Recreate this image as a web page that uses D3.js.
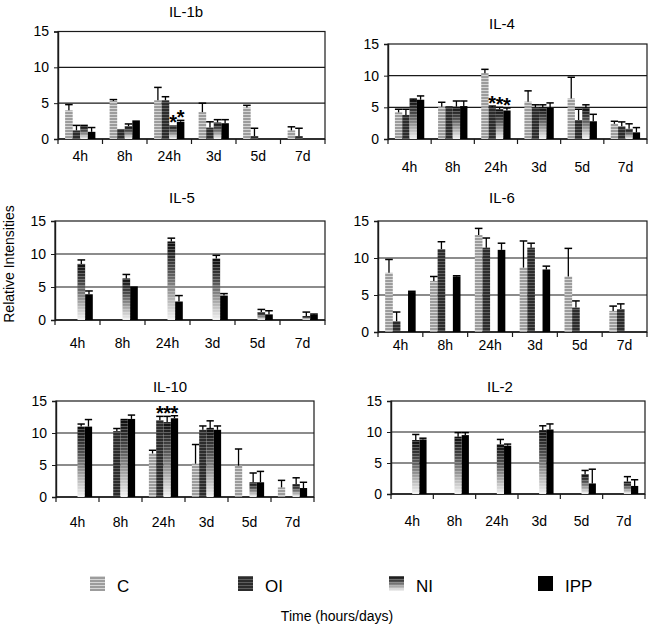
<!DOCTYPE html>
<html>
<head>
<meta charset="utf-8">
<script src="https://cdn.jsdelivr.net/npm/d3@7"></script>
<style>
  html, body { margin: 0; padding: 0; background: #fff; }
  text { font-family: "Liberation Sans", Arial, sans-serif; fill: #000; }
</style>
</head>
<body>
<script>
// ---------------- DATA ----------------
const categories = ["4h", "8h", "24h", "3d", "5d", "7d"];
const seriesNames = ["C", "OI", "NI", "IPP"];
const yTicks = [0, 5, 10, 15];

// values per series (C, OI, NI, IPP); null = no bar
const il1bValues = [
  [4.0, 5.3, 5.4, 3.75, 4.4, 1.2],
  [1.2, 1.4, 5.4, 1.6, 0.4, 0.4],
  [1.8, 1.8, 1.9, 2.3, null, null],
  [1.0, 2.6, 2.4, 2.2, null, null]
];
const il1bErrors = [
  [0.8, 0.2, 1.8, 1.25, 0.3, 0.5],
  [0.7, 0, 0.5, 0.8, 1.1, 1.1],
  [0.1, 0.3, 0, 0.4, 0, 0],
  [0.6, 0, 0.2, 0.5, 0, 0]
];
const il1bStars = [["24h", "NI"], ["24h", "IPP"]];

const il4Values = [
  [4.2, 5.1, 10.4, 5.9, 6.4, 2.4],
  [3.8, 5.2, 5.0, 5.0, 3.0, 2.0],
  [6.2, 5.1, 4.7, 5.0, 4.9, 1.6],
  [6.2, 5.2, 4.5, 4.9, 2.8, 1.05]
];
const il4Errors = [
  [0.5, 0.7, 0.6, 1.7, 3.35, 0.4],
  [0.9, 0, 0.2, 0.4, 1.7, 0.7],
  [0.1, 0.9, 0.3, 0.4, 0.5, 0.8],
  [0.6, 0.8, 0.4, 0.8, 1.1, 0.75]
];
const il4Stars = [["24h", "OI"], ["24h", "NI"], ["24h", "IPP"]];

const il5Values = [
  [null, null, null, null, null, null],
  [null, null, null, null, null, null],
  [8.5, 6.3, 11.9, 9.3, 1.2, 0.6],
  [3.9, 5.1, 2.8, 3.7, 0.85, 0.8]
];
const il5Errors = [
  [0, 0, 0, 0, 0, 0],
  [0, 0, 0, 0, 0, 0],
  [0.6, 0.6, 0.5, 0.5, 0.4, 0.6],
  [0.5, 0, 0.9, 0.3, 0.55, 0.1]
];
const il5Stars = [];

const il6Values = [
  [8.0, 6.9, 13.1, 8.7, 7.5, 2.85],
  [1.45, 11.2, 11.4, 11.4, 3.3, 3.1],
  [null, null, null, null, null, null],
  [5.4, 7.5, 11.1, 8.45, null, null]
];
const il6Errors = [
  [1.8, 0.6, 0.9, 3.6, 3.8, 0.65],
  [1.25, 1.0, 1.3, 0.6, 0.9, 0.7],
  [0, 0, 0, 0, 0, 0],
  [0.1, 0.1, 0.9, 0.45, 0, 0]
];
const il6Stars = [];

const il10Values = [
  [null, null, 6.8, 5.2, 4.9, 1.5],
  [null, 10.3, 12.0, 10.5, null, null],
  [11.0, 12.0, 11.7, 10.8, 2.3, 2.0],
  [11.0, 12.2, 12.3, 10.5, 2.3, 1.4]
];
const il10Errors = [
  [0, 0, 0.5, 3.0, 2.6, 1.1],
  [0, 0.4, 0.6, 0.6, 0, 0],
  [0.4, 0.1, 0.9, 1.1, 1.45, 1.0],
  [1.1, 0.6, 0.4, 0.6, 1.7, 0.9]
];
const il10Stars = [["24h", "OI"], ["24h", "NI"], ["24h", "IPP"]];

const il2Values = [
  [null, null, null, null, null, null],
  [null, null, null, null, null, null],
  [8.7, 9.25, 8.0, 10.3, 3.2, 2.0],
  [8.8, 9.5, 7.8, 10.4, 1.7, 1.3]
];
const il2Errors = [
  [0, 0, 0, 0, 0, 0],
  [0, 0, 0, 0, 0, 0],
  [0.9, 0.65, 0.8, 0.7, 0.6, 0.8],
  [0.2, 0.4, 0.25, 0.9, 2.3, 1.0]
];
const il2Stars = [];

const yAxisTitle = "Relative Intensities";
const xAxisTitle = "Time (hours/days)";

// ---------------- LAYOUT ----------------
const panels = [
  { title: "IL-1b", values: il1bValues, errors: il1bErrors, stars: il1bStars,
    L: 58, R: 325, top: 31.5, bottom: 139, titleX: 186, titleY: 17, labelY: 161 },
  { title: "IL-4", values: il4Values, errors: il4Errors, stars: il4Stars,
    L: 388, R: 647, top: 44, bottom: 139, titleX: 502, titleY: 29, labelY: 172 },
  { title: "IL-5", values: il5Values, errors: il5Errors, stars: il5Stars,
    L: 55, R: 325, top: 221, bottom: 320, titleX: 182, titleY: 203, labelY: 348 },
  { title: "IL-6", values: il6Values, errors: il6Errors, stars: il6Stars,
    L: 378, R: 647, top: 221, bottom: 332, titleX: 502, titleY: 203, labelY: 350 },
  { title: "IL-10", values: il10Values, errors: il10Errors, stars: il10Stars,
    L: 56, R: 314, top: 401, bottom: 497, titleX: 170, titleY: 392, labelY: 527 },
  { title: "IL-2", values: il2Values, errors: il2Errors, stars: il2Stars,
    L: 391, R: 645, top: 401, bottom: 494, titleX: 500, titleY: 392, labelY: 526 }
];

const W = 652, H = 627;
const svg = d3.select("body").append("svg").attr("width", W).attr("height", H);
const defs = svg.append("defs");

// striped fills
function stripePattern(id, base, stripe) {
  const p = defs.append("pattern").attr("id", id)
    .attr("patternUnits", "userSpaceOnUse").attr("width", 4).attr("height", 3);
  p.append("rect").attr("width", 4).attr("height", 3).attr("fill", base);
  p.append("rect").attr("width", 4).attr("height", 1).attr("fill", stripe);
}
stripePattern("patC", "#9c9c9c", "#d6d6d6");
stripePattern("patOI", "#2c2c2c", "#5e5e5e");
const ov = defs.append("pattern").attr("id", "patStripe")
  .attr("patternUnits", "userSpaceOnUse").attr("width", 4).attr("height", 3);
ov.append("rect").attr("width", 4).attr("height", 1).attr("fill", "#fff").attr("opacity", 0.28);

const grad = defs.append("linearGradient").attr("id", "gradNI")
  .attr("x1", 0).attr("y1", 0).attr("x2", 0).attr("y2", 1);
grad.append("stop").attr("offset", "0").attr("stop-color", "#0c0c0c");
grad.append("stop").attr("offset", "0.35").attr("stop-color", "#4a4a4a");
grad.append("stop").attr("offset", "0.8").attr("stop-color", "#c4c4c4");
grad.append("stop").attr("offset", "1").attr("stop-color", "#f2f2f2");

const fills = { C: "url(#patC)", OI: "url(#patOI)", NI: "url(#gradNI)", IPP: "#000" };
const lineColor = "#1a1a1a";

panels.forEach(p => {
  const g = svg.append("g");
  const y = d3.scaleLinear().domain([0, 15]).range([p.bottom, p.top]);
  const x0 = d3.scaleBand().domain(categories).range([p.L, p.R]);
  const bw = x0.bandwidth();
  const x1 = d3.scaleBand().domain(seriesNames).range([bw * 0.16, bw * 0.84]);

  // gridlines
  g.selectAll("line.grid").data([5, 10]).join("line")
    .attr("x1", p.L).attr("x2", p.R)
    .attr("y1", d => y(d)).attr("y2", d => y(d))
    .attr("stroke", lineColor).attr("stroke-width", 1.2);
  // box
  g.append("rect").attr("x", p.L).attr("y", y(15))
    .attr("width", p.R - p.L).attr("height", y(0) - y(15))
    .attr("fill", "none").attr("stroke", lineColor).attr("stroke-width", 1.2);

  // y axis
  const ya = g.append("g").attr("transform", `translate(${p.L},0)`)
    .call(d3.axisLeft(y).tickValues(yTicks).tickSize(4).tickPadding(5));
  ya.select(".domain").attr("stroke", lineColor).attr("stroke-width", 1.4);
  ya.selectAll(".tick line").attr("stroke", lineColor);
  ya.selectAll("text").attr("font-size", 14).attr("fill", "#000")
    .style("font-family", "'Liberation Sans', Arial, sans-serif");

  // x axis baseline & ticks between categories
  g.append("line").attr("x1", p.L).attr("x2", p.R)
    .attr("y1", y(0)).attr("y2", y(0))
    .attr("stroke", lineColor).attr("stroke-width", 1.4);
  const bounds = categories.map(c => x0(c)).concat([p.R]);
  g.selectAll("line.xt").data(bounds).join("line")
    .attr("x1", d => d).attr("x2", d => d)
    .attr("y1", y(0)).attr("y2", y(0) + 5)
    .attr("stroke", lineColor).attr("stroke-width", 1.2);
  g.selectAll("text.xl").data(categories).join("text")
    .attr("x", d => x0(d) + bw / 2).attr("y", p.labelY)
    .attr("text-anchor", "middle").attr("font-size", 14).text(d => d);

  // bars
  const bars = [];
  seriesNames.forEach((s, si) => {
    categories.forEach((c, ci) => {
      const v = p.values[si][ci];
      if (v !== null && v !== undefined) {
        bars.push({ s, c, v, e: p.errors[si][ci] || 0 });
      }
    });
  });
  g.selectAll("rect.bar").data(bars).join("rect")
    .attr("x", d => x0(d.c) + x1(d.s)).attr("y", d => y(d.v))
    .attr("width", x1.bandwidth()).attr("height", d => y(0) - y(d.v))
    .attr("fill", d => fills[d.s]);
  g.selectAll("rect.ov").data(bars.filter(d => d.s === "NI")).join("rect")
    .attr("x", d => x0(d.c) + x1(d.s)).attr("y", d => y(d.v))
    .attr("width", x1.bandwidth()).attr("height", d => y(0) - y(d.v))
    .attr("fill", "url(#patStripe)");

  // error bars
  const eb = bars.filter(d => d.e > 0);
  g.selectAll("line.ev").data(eb).join("line")
    .attr("x1", d => x0(d.c) + x1(d.s) + x1.bandwidth() / 2)
    .attr("x2", d => x0(d.c) + x1(d.s) + x1.bandwidth() / 2)
    .attr("y1", d => y(d.v)).attr("y2", d => y(d.v + d.e))
    .attr("stroke", "#000").attr("stroke-width", 1.3);
  g.selectAll("line.ec").data(eb).join("line")
    .attr("x1", d => x0(d.c) + x1(d.s))
    .attr("x2", d => x0(d.c) + x1(d.s) + x1.bandwidth())
    .attr("y1", d => y(d.v + d.e)).attr("y2", d => y(d.v + d.e))
    .attr("stroke", "#000").attr("stroke-width", 1.5);

  // significance stars
  g.selectAll("text.star").data(p.stars).join("text")
    .attr("x", d => x0(d[0]) + x1(d[1]) + x1.bandwidth() / 2)
    .attr("y", d => {
      const si = seriesNames.indexOf(d[1]);
      const ci = categories.indexOf(d[0]);
      const top = p.values[si][ci] + (p.errors[si][ci] || 0);
      return y(top) + 4;
    })
    .attr("text-anchor", "middle").attr("font-size", 20).attr("font-weight", "bold")
    .text("*");

  // title
  g.append("text").attr("x", p.titleX).attr("y", p.titleY)
    .attr("text-anchor", "middle").attr("font-size", 15).text(p.title);
});

// y axis title
svg.append("text").attr("transform", "translate(14,264) rotate(-90)")
  .attr("text-anchor", "middle").attr("font-size", 14).text(yAxisTitle);

// legend
const legendX = [90, 238, 389, 538];
const lg = svg.append("g");
seriesNames.forEach((s, i) => {
  lg.append("rect").attr("x", legendX[i]).attr("y", 576).attr("width", 15).attr("height", 15)
    .attr("fill", fills[s]);
  if (s === "NI") {
    lg.append("rect").attr("x", legendX[i]).attr("y", 576).attr("width", 15).attr("height", 15)
      .attr("fill", "url(#patStripe)");
  }
  lg.append("text").attr("x", legendX[i] + 27).attr("y", 592)
    .attr("font-size", 17).text(s);
});

// x axis title
svg.append("text").attr("x", 337).attr("y", 621)
  .attr("text-anchor", "middle").attr("font-size", 14).text(xAxisTitle);
</script>
</body>
</html>
